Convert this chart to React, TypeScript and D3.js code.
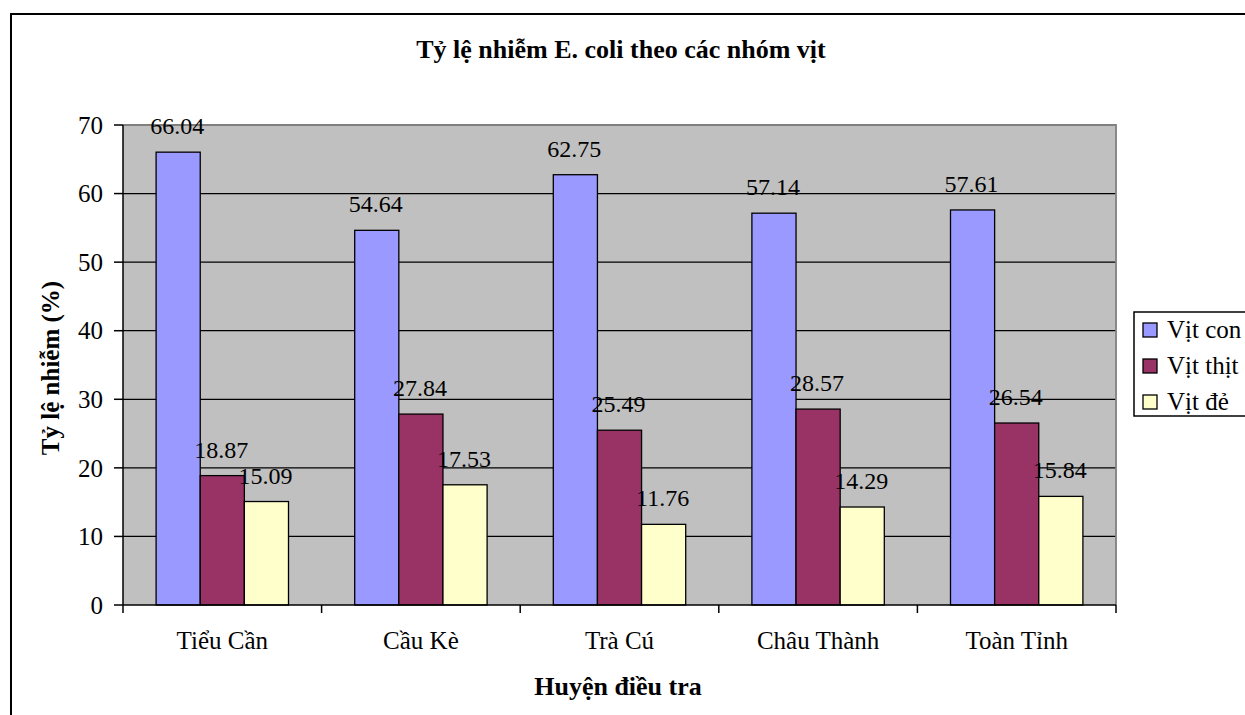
import React from "react";
import * as d3 from "d3";

// Districts surveyed and infection rates (%) per duck group
const districts = ["Tiểu Cần", "Cầu Kè", "Trà Cú", "Châu Thành", "Toàn Tỉnh"];
const seriesNames = ["Vịt con", "Vịt thịt", "Vịt đẻ"];
const vitCon = [66.04, 54.64, 62.75, 57.14, 57.61];
const vitThit = [18.87, 27.84, 25.49, 28.57, 26.54];
const vitDe = [15.09, 17.53, 11.76, 14.29, 15.84];
const seriesColors = ["#9999FF", "#993366", "#FFFFCC"];
const yTicks = [0, 10, 20, 30, 40, 50, 60, 70];

const W = 1245;
const H = 715;
const plot = { left: 123, right: 1116, top: 125, bottom: 605 };
const FONT = "'Liberation Serif', 'Times New Roman', serif";
const txt = { fontFamily: FONT, fontWeight: 400 as const };
const bold = { fontFamily: FONT, fontWeight: 700 as const };

export default function App() {
  const seriesValues = [vitCon, vitThit, vitDe];

  const x = d3.scaleBand<string>().domain(districts).range([plot.left, plot.right]).padding(0);
  const xs = d3
    .scaleBand<string>()
    .domain(seriesNames)
    .range([0, x.bandwidth()])
    .paddingInner(0)
    .paddingOuter(0.75);
  const y = d3.scaleLinear().domain([0, 70]).range([plot.bottom, plot.top]);

  const boundaries = districts.map((d) => x(d) as number).concat([plot.right]);

  return (
    <svg
      width={W}
      height={H}
      style={{ position: "absolute", left: 0, top: 0, background: "#fff" }}
    >
      {/* chart area frame */}
      <rect x={11} y={14} width={1400} height={900} fill="#fff" stroke="#000" strokeWidth={2} />

      {/* title */}
      <text x={621} y={58} textAnchor="middle" fontSize={26} style={bold} fill="#000">
        Tỷ lệ nhiễm E. coli theo các nhóm vịt
      </text>

      {/* plot area */}
      <rect
        x={plot.left}
        y={plot.top}
        width={plot.right - plot.left}
        height={plot.bottom - plot.top}
        fill="#C0C0C0"
      />
      {yTicks
        .filter((t) => t > 0 && t < 70)
        .map((t) => (
          <line key={t} x1={plot.left} x2={plot.right} y1={y(t)} y2={y(t)} stroke="#000" strokeWidth={1.3} />
        ))}
      <polyline
        points={`${plot.left},${plot.top} ${plot.right},${plot.top} ${plot.right},${plot.bottom}`}
        fill="none"
        stroke="#808080"
        strokeWidth={1.8}
      />

      {/* bars */}
      {seriesValues.map((vals, si) =>
        vals.map((v, ci) => {
          const bx = (x(districts[ci]) as number) + (xs(seriesNames[si]) as number);
          return (
            <rect
              key={`${si}-${ci}`}
              x={bx}
              y={y(v)}
              width={xs.bandwidth()}
              height={y(0) - y(v)}
              fill={seriesColors[si]}
              stroke="#000"
              strokeWidth={1.3}
            />
          );
        })
      )}

      {/* data labels */}
      {seriesValues.map((vals, si) =>
        vals.map((v, ci) => {
          const cx = (x(districts[ci]) as number) + (xs(seriesNames[si]) as number) + xs.bandwidth() / 2;
          return (
            <text
              key={`l-${si}-${ci}`}
              x={cx - 1}
              y={y(v) - 18}
              textAnchor="middle"
              fontSize={24}
              style={txt}
              fill="#000"
            >
              {v.toFixed(2)}
            </text>
          );
        })
      )}

      {/* axes */}
      <line x1={plot.left} x2={plot.left} y1={plot.top} y2={plot.bottom} stroke="#000" strokeWidth={1.5} />
      <line x1={plot.left} x2={plot.right} y1={plot.bottom} y2={plot.bottom} stroke="#000" strokeWidth={1.5} />
      {yTicks.map((t) => (
        <g key={`yt-${t}`}>
          <line x1={plot.left - 9} x2={plot.left} y1={y(t)} y2={y(t)} stroke="#000" strokeWidth={1.5} />
          <text x={103} y={y(t)} dy="0.35em" textAnchor="end" fontSize={25} style={txt} fill="#000">
            {t}
          </text>
        </g>
      ))}
      {boundaries.map((bx, i) => (
        <line key={`xt-${i}`} x1={bx} x2={bx} y1={plot.bottom} y2={plot.bottom + 8} stroke="#000" strokeWidth={1.5} />
      ))}
      {districts.map((d) => (
        <text
          key={`xl-${d}`}
          x={(x(d) as number) + x.bandwidth() / 2}
          y={649}
          textAnchor="middle"
          fontSize={25}
          style={txt}
          fill="#000"
        >
          {d}
        </text>
      ))}

      {/* axis titles */}
      <text x={618} y={695} textAnchor="middle" fontSize={26} style={bold} fill="#000">
        Huyện điều tra
      </text>
      <text
        transform="translate(59,368) rotate(-90)"
        textAnchor="middle"
        fontSize={25}
        style={bold}
        fill="#000"
      >
        Tỷ lệ nhiễm (%)
      </text>

      {/* legend */}
      <rect x={1134} y={312} width={140} height={104} fill="#fff" stroke="#000" strokeWidth={1.5} />
      {seriesNames.map((s, i) => (
        <g key={`lg-${s}`}>
          <rect x={1143} y={323 + i * 36} width={14} height={14} fill={seriesColors[i]} stroke="#000" strokeWidth={1.3} />
          <text x={1167} y={338 + i * 36} fontSize={25} style={txt} fill="#000">
            {s}
          </text>
        </g>
      ))}
    </svg>
  );
}
